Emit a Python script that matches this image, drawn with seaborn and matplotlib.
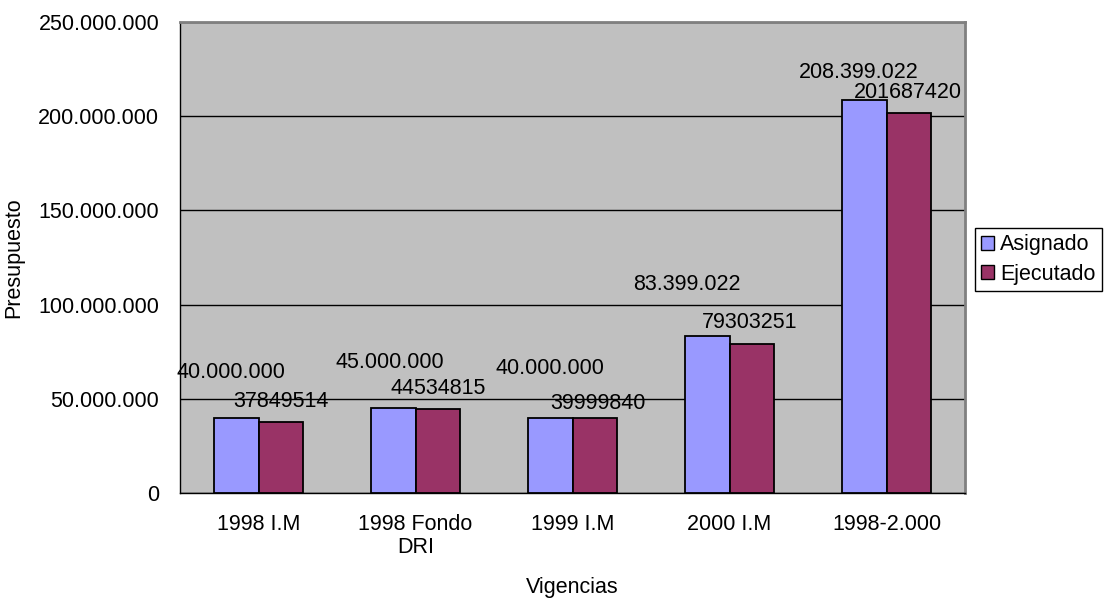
import matplotlib
matplotlib.use("Agg")
import matplotlib.pyplot as plt
import seaborn as sns
import pandas as pd
from matplotlib.patches import Patch

# Budget per period (pesos)
vigencias = ["1998 I.M", "1998 Fondo\nDRI", "1999 I.M", "2000 I.M", "1998-2.000"]
asignado = [40000000, 45000000, 40000000, 83399022, 208399022]
ejecutado = [37849514, 44534815, 39999840, 79303251, 201687420]
series = ["Asignado", "Ejecutado"]
y_ticks = [0, 50000000, 100000000, 150000000, 200000000, 250000000]

# Label placement relative to bar top (pixels)
asig_label_dx = [-5, -3, 0, -20, -5]
asig_label_dy = [45, 46, 49, 51, 28]
ejec_label_dx = [0, 0, 3, -2, -1]
ejec_label_dy = [20, 21, 14, 21, 21]

colors = {"Asignado": "#9999FF", "Ejecutado": "#993366"}

df = pd.DataFrame({
    "Vigencias": vigencias * 2,
    "Presupuesto": asignado + ejecutado,
    "Serie": [series[0]] * len(vigencias) + [series[1]] * len(vigencias),
})

sns.set_theme(style="white")
plt.rcParams["font.family"] = ["Liberation Sans", "DejaVu Sans"]
plt.rcParams["text.color"] = "black"
plt.rcParams["axes.labelcolor"] = "black"
FS = 15.5

W, H = 1106, 599
fig = plt.figure(figsize=(W / 100, H / 100), dpi=100)
fig.patch.set_facecolor("white")
ax = fig.add_axes([180 / W, (H - 493) / H, 785 / W, 471 / H])
ax.set_facecolor("#C0C0C0")

sns.barplot(data=df, x="Vigencias", y="Presupuesto", hue="Serie",
            palette=colors, width=0.573, edgecolor="black", linewidth=1.3,
            saturation=1, ax=ax, legend=False, zorder=3)

ax.set_ylim(0, 250000000)
ax.set_xlim(-0.5, len(vigencias) - 0.5)
ax.set_yticks(y_ticks)
ax.set_yticklabels([f"{v:,}".replace(",", ".") for v in y_ticks], fontsize=FS)
ax.yaxis.grid(True, color="black", linewidth=1.0, zorder=1)
ax.set_axisbelow(True)

# Category ticks on the boundaries between groups
ax.set_xticks(range(len(vigencias)))
ax.set_xticklabels(vigencias, fontsize=FS, linespacing=1.15)
ax.tick_params(axis="x", which="major", length=0, pad=15)
ax.set_xticks([i + 0.5 for i in range(-1, len(vigencias))], minor=True)
ax.tick_params(axis="x", which="minor", length=7, width=1, color="black", direction="out")
ax.tick_params(axis="y", length=7, width=1, color="black", direction="out", pad=8)
ax.tick_params(axis="both", labelcolor="black")

for s in ["left", "bottom"]:
    ax.spines[s].set_color("black")
    ax.spines[s].set_linewidth(1.0)
for s in ["top", "right"]:
    ax.spines[s].set_color("#808080")
    ax.spines[s].set_linewidth(2.0)

ax.set_xlabel("Vigencias", fontsize=FS, va="center")
ax.xaxis.set_label_coords(0.5, -(588 - 493) / 471)
ax.set_ylabel("Presupuesto", fontsize=FS, labelpad=10)

# Value labels
for i, bar in enumerate(ax.containers[0]):
    cx = bar.get_x() + bar.get_width() / 2
    ax.annotate(f"{asignado[i]:,}".replace(",", "."), xy=(cx, asignado[i]),
                xytext=(asig_label_dx[i], asig_label_dy[i]), textcoords="offset pixels",
                ha="center", va="center", fontsize=FS, color="black",
                zorder=5, annotation_clip=False)
for i, bar in enumerate(ax.containers[1]):
    cx = bar.get_x() + bar.get_width() / 2
    ax.annotate(f"{ejecutado[i]}", xy=(cx, ejecutado[i]),
                xytext=(ejec_label_dx[i], ejec_label_dy[i]), textcoords="offset pixels",
                ha="center", va="center", fontsize=FS, color="black",
                zorder=5, annotation_clip=False)

handles = [Patch(facecolor=colors[s], edgecolor="black", linewidth=1.0, label=s) for s in series]
leg = fig.legend(handles=handles, loc="upper left",
                 bbox_to_anchor=(975 / W, 1 - 228 / H), bbox_transform=fig.transFigure,
                 fontsize=FS, frameon=True, fancybox=False, framealpha=1,
                 edgecolor="black", handlelength=0.6, handleheight=0.6,
                 handletextpad=0.25, borderpad=0.3, labelspacing=0.38, borderaxespad=0)
leg.get_frame().set_linewidth(1.0)

fig.savefig("out.png", dpi=100, facecolor="white")
